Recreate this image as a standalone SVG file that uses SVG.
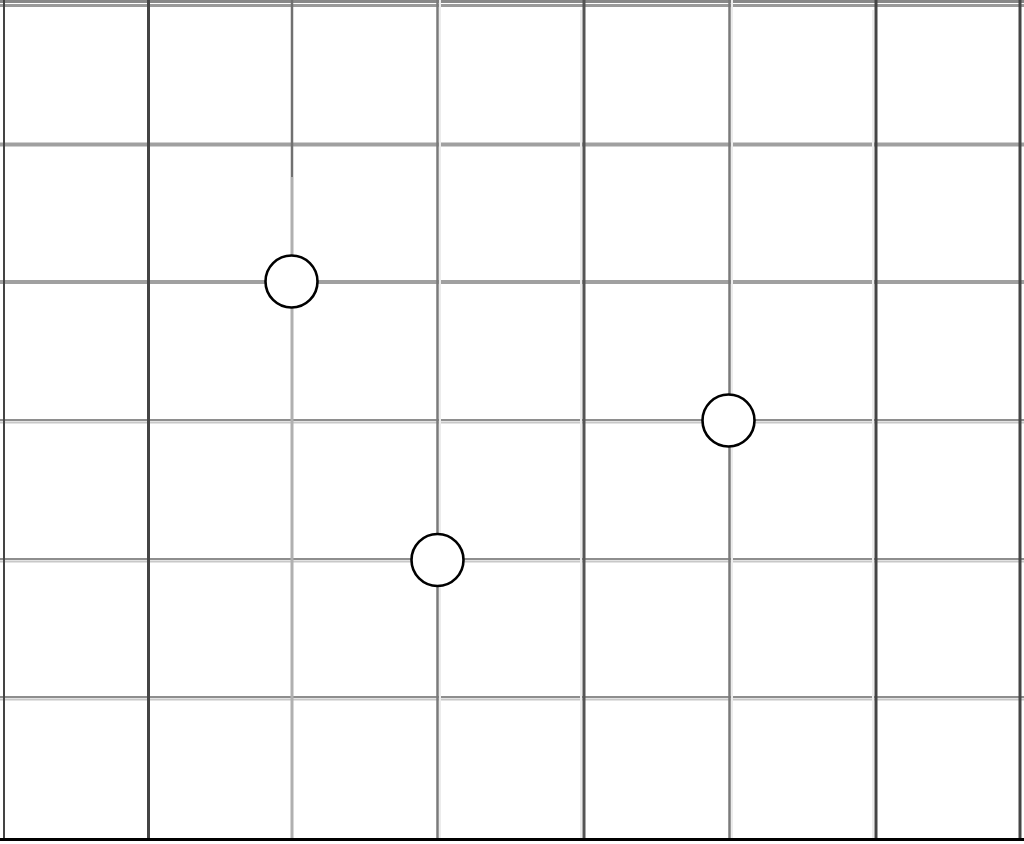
<svg xmlns="http://www.w3.org/2000/svg" width="1024" height="844" viewBox="0 0 1024 844">
<style>
.h{stroke:#a0a0a0;stroke-width:4}
.hl{stroke:#c8c8c8;stroke-width:2}
.hd{stroke:#8e8e8e;stroke-width:2}
.vd{stroke:#444;stroke-width:3}
.vm{stroke:#7a7a7a;stroke-width:2.5}
.vl{stroke:#ececec;stroke-width:2}
.node{fill:#fff;stroke:#000;stroke-width:2.6}
</style>
<rect width="1024" height="844" fill="#fff"/>
<g id="connectors">
  <line x1="0" y1="1.5" x2="1024" y2="1.5" stroke="#888" stroke-width="3"/>
  <line x1="0" y1="5.5" x2="1024" y2="5.5" stroke="#9a9a9a" stroke-width="3"/>
  <line class="h" x1="0" y1="144.5" x2="1024" y2="144.5"/>
  <line class="h" x1="0" y1="282" x2="1024" y2="282"/>
  <line class="hd" x1="0" y1="420" x2="1024" y2="420"/>
  <line class="hl" x1="0" y1="422.5" x2="1024" y2="422.5"/>
  <line class="hd" x1="0" y1="559" x2="1024" y2="559"/>
  <line class="hl" x1="0" y1="561.5" x2="1024" y2="561.5"/>
  <line class="hd" x1="0" y1="697" x2="1024" y2="697"/>
  <line class="hl" x1="0" y1="699.5" x2="1024" y2="699.5"/>
  <line class="vl" x1="440" y1="0" x2="440" y2="838"/>
  <line class="vl" x1="581" y1="10" x2="581" y2="838"/>
  <line class="vl" x1="732" y1="0" x2="732" y2="838"/>
  <line class="vl" x1="873" y1="10" x2="873" y2="838"/>
  <line x1="4" y1="0" x2="4" y2="840" stroke="#444" stroke-width="2"/>
  <line class="vd" x1="148.5" y1="0" x2="148.5" y2="840"/>
  <line x1="292" y1="0" x2="292" y2="177" stroke="#707070" stroke-width="2.5"/>
  <line x1="292" y1="177" x2="292" y2="840" stroke="#b0b0b0" stroke-width="3"/>
  <line class="vm" x1="437.5" y1="0" x2="437.5" y2="840"/>
  <line x1="584" y1="0" x2="584" y2="840" stroke="#555" stroke-width="3"/>
  <line class="vm" x1="729.5" y1="0" x2="729.5" y2="840"/>
  <line class="vd" x1="876" y1="0" x2="876" y2="840"/>
  <line class="vd" x1="1020" y1="0" x2="1020" y2="840"/>
  <line x1="0" y1="839.5" x2="1024" y2="839.5" stroke="#000" stroke-width="3"/>
</g>
<g id="node1"><circle class="node" cx="291.5" cy="281.5" r="26"/></g>
<g id="node2"><circle class="node" cx="437.5" cy="560" r="26"/></g>
<g id="node3"><circle class="node" cx="728.5" cy="420.5" r="26"/></g>
</svg>
